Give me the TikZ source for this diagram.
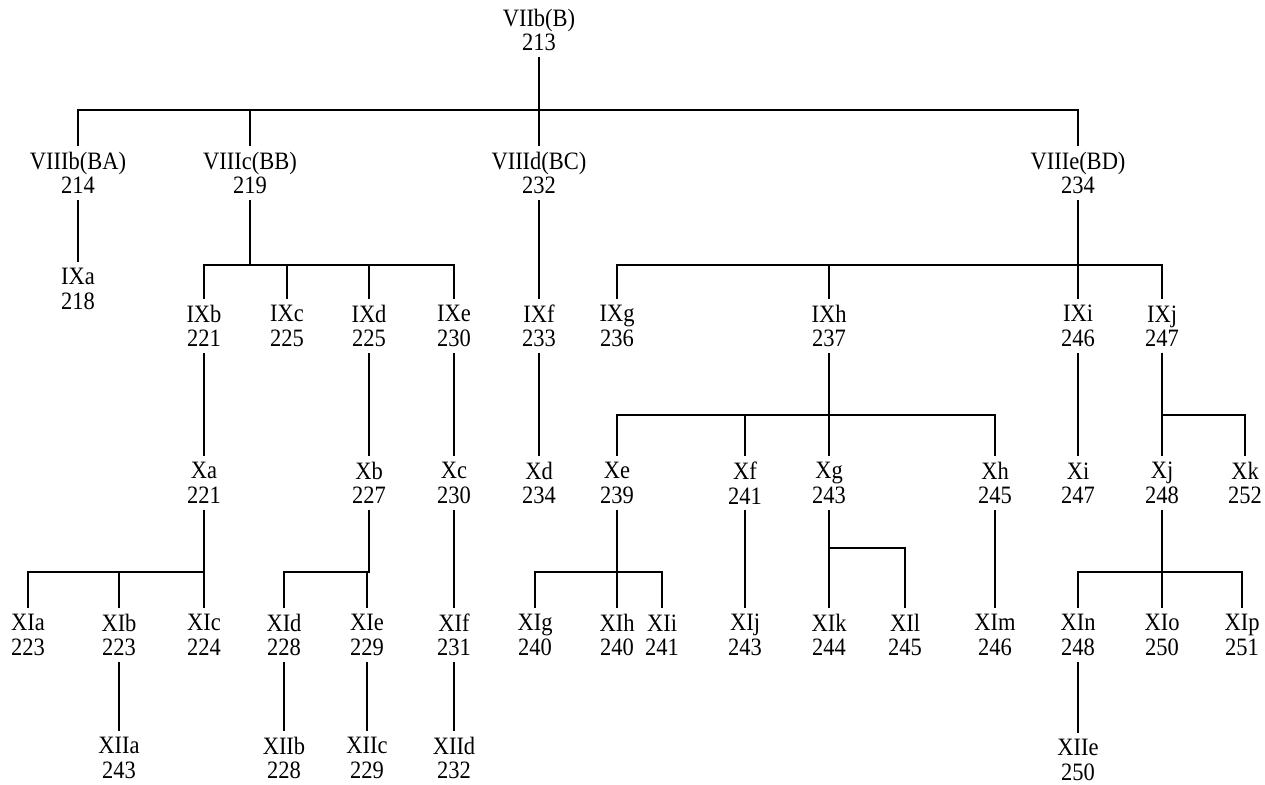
\documentclass[tikz,border=0pt]{standalone}
\usepackage{fontspec}
\setmainfont{Liberation Serif}[FakeStretch=0.9]
\begin{document}
\begin{tikzpicture}[x=1pt,y=-1pt,
  nd/.style={align=center, inner xsep=1pt, inner ysep=6pt, font=\fontsize{25}{24.5}\selectfont},
  conn/.style={line width=1.4pt}]
\useasboundingbox (0,0) rectangle (1265,784);
% bus heights
\coordinate (bA) at (0,110);
\coordinate (bB) at (0,265);
\coordinate (bC) at (0,415);
\coordinate (bD) at (0,572);
\coordinate (bE) at (0,548);
% root and level VIII
\node[nd] (root) at (539,30) {VIIb(B)\\213};
\node[nd] (n8b) at (78,173) {VIIIb(BA)\\214};
\node[nd] (n8c) at (250,173) {VIIIc(BB)\\219};
\node[nd] (n8d) at (539,173) {VIIId(BC)\\232};
\node[nd] (n8e) at (1078,173) {VIIIe(BD)\\234};
% level IX
\node[nd] (n9a) at (78,289) {IXa\\218};
\node[nd] (n9b) at (204,326) {IXb\\221};
\node[nd] (n9c) at (287,326) {IXc\\225};
\node[nd] (n9d) at (369,326) {IXd\\225};
\node[nd] (n9e) at (454,326) {IXe\\230};
\node[nd] (n9f) at (539,326) {IXf\\233};
\node[nd] (n9g) at (617,326) {IXg\\236};
\node[nd] (n9h) at (829,326) {IXh\\237};
\node[nd] (n9i) at (1078,326) {IXi\\246};
\node[nd] (n9j) at (1162,326) {IXj\\247};
% level X
\node[nd] (xa) at (204,483) {Xa\\221};
\node[nd] (xb) at (369,483) {Xb\\227};
\node[nd] (xc) at (454,483) {Xc\\230};
\node[nd] (xd) at (539,483) {Xd\\234};
\node[nd] (xe) at (617,483) {Xe\\239};
\node[nd] (xf) at (745,483) {Xf\\241};
\node[nd] (xg) at (829,483) {Xg\\243};
\node[nd] (xh) at (995,483) {Xh\\245};
\node[nd] (xi) at (1078,483) {Xi\\247};
\node[nd] (xj) at (1162,483) {Xj\\248};
\node[nd] (xk) at (1245,483) {Xk\\252};
% level XI
\node[nd] (xia) at (28,635) {XIa\\223};
\node[nd] (xib) at (119,635) {XIb\\223};
\node[nd] (xic) at (204,635) {XIc\\224};
\node[nd] (xid) at (284,635) {XId\\228};
\node[nd] (xie) at (367,635) {XIe\\229};
\node[nd] (xif) at (454,635) {XIf\\231};
\node[nd] (xig) at (535,635) {XIg\\240};
\node[nd] (xih) at (617,635) {XIh\\240};
\node[nd] (xii) at (662,635) {XIi\\241};
\node[nd] (xij) at (745,635) {XIj\\243};
\node[nd] (xik) at (829,635) {XIk\\244};
\node[nd] (xil) at (905,635) {XIl\\245};
\node[nd] (xim) at (995,635) {XIm\\246};
\node[nd] (xin) at (1078,635) {XIn\\248};
\node[nd] (xio) at (1162,635) {XIo\\250};
\node[nd] (xip) at (1242,635) {XIp\\251};
% level XII
\node[nd] (xiia) at (119,758) {XIIa\\243};
\node[nd] (xiib) at (284,758) {XIIb\\228};
\node[nd] (xiic) at (367,758) {XIIc\\229};
\node[nd] (xiid) at (454,758) {XIId\\232};
\node[nd] (xiie) at (1078,760) {XIIe\\250};
% connectors
\foreach \c in {n8b,n8c,n8d,n8e}
  \draw[conn] (root.south) -- (root.south |- bA) -| (\c.north);
\draw[conn] (n8b.south) -- (n9a.north);
\foreach \c in {n9b,n9c,n9d,n9e}
  \draw[conn] (n8c.south) -- (n8c.south |- bB) -| (\c.north);
\draw[conn] (n8d.south) -- (n9f.north);
\foreach \c in {n9g,n9h,n9i,n9j}
  \draw[conn] (n8e.south) -- (n8e.south |- bB) -| (\c.north);
\draw[conn] (n9b.south) -- (xa.north);
\draw[conn] (n9d.south) -- (xb.north);
\draw[conn] (n9e.south) -- (xc.north);
\draw[conn] (n9f.south) -- (xd.north);
\foreach \c in {xe,xf,xg,xh}
  \draw[conn] (n9h.south) -- (n9h.south |- bC) -| (\c.north);
\draw[conn] (n9i.south) -- (xi.north);
\foreach \c in {xj,xk}
  \draw[conn] (n9j.south) -- (n9j.south |- bC) -| (\c.north);
\foreach \c in {xia,xib,xic}
  \draw[conn] (xa.south) -- (xa.south |- bD) -| (\c.north);
\foreach \c in {xid,xie}
  \draw[conn] (xb.south) -- (xb.south |- bD) -| (\c.north);
\draw[conn] (xc.south) -- (xif.north);
\foreach \c in {xig,xih,xii}
  \draw[conn] (xe.south) -- (xe.south |- bD) -| (\c.north);
\draw[conn] (xf.south) -- (xij.north);
\foreach \c in {xik,xil}
  \draw[conn] (xg.south) -- (xg.south |- bE) -| (\c.north);
\draw[conn] (xh.south) -- (xim.north);
\foreach \c in {xin,xio,xip}
  \draw[conn] (xj.south) -- (xj.south |- bD) -| (\c.north);
\draw[conn] (xib.south) -- (xiia.north);
\draw[conn] (xid.south) -- (xiib.north);
\draw[conn] (xie.south) -- (xiic.north);
\draw[conn] (xif.south) -- (xiid.north);
\draw[conn] (xin.south) -- (xiie.north);
\end{tikzpicture}
\end{document}
